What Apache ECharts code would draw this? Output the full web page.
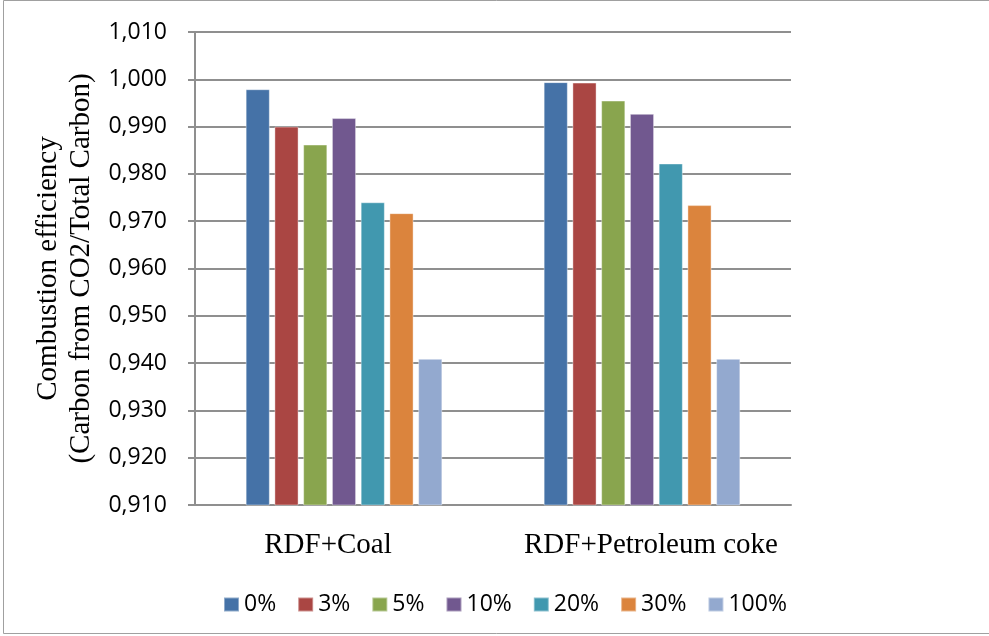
<!DOCTYPE html>
<html>
<head>
<meta charset="utf-8">
<script src="https://cdn.jsdelivr.net/npm/echarts@6/dist/echarts.min.js"></script>
<style>
  html, body { margin: 0; padding: 0; background: #fff; }
  #chart { width: 989px; height: 636px; }
</style>
</head>
<body>
<div id="chart"></div>
<script>
// Fuel blends on the category axis
const categories = ['RDF+Coal', 'RDF+Petroleum coke'];

// RDF share in the blend (one series each)
const seriesNames = ['0%', '3%', '5%', '10%', '20%', '30%', '100%'];

// Combustion efficiency per blend, one array per RDF share
const eff0 = [0.9979, 0.9994];
const eff3 = [0.9900, 0.9993];
const eff5 = [0.9862, 0.9955];
const eff10 = [0.9918, 0.9927];
const eff20 = [0.9740, 0.9822];
const eff30 = [0.9717, 0.9734];
const eff100 = [0.9409, 0.9409];

// Value axis range
const yMin = 0.91;
const yMax = 1.01;
const yStep = 0.01;

const seriesData = [eff0, eff3, eff5, eff10, eff20, eff30, eff100];
const colors = ['#4572A7', '#AA4643', '#89A54E', '#71588F', '#4198AF', '#DB843D', '#93A9CF'];

const chart = echarts.init(document.getElementById('chart'));

const gridColor = '#8f8f8f';

chart.setOption({
  animation: false,
  backgroundColor: '#ffffff',
  color: colors,
  graphic: [{
    type: 'rect',
    shape: { x: 3.5, y: 0.5, width: 990, height: 633 },
    style: { fill: 'none', stroke: '#a0a0a0', lineWidth: 1 },
    silent: true
  }],
  grid: { left: 195, right: 198, top: 32, bottom: 131 },
  legend: {
    left: 218,
    top: 588,
    icon: 'rect',
    itemWidth: 15,
    itemHeight: 14,
    itemGap: 21,
    textStyle: { fontFamily: 'Open Sans', fontSize: 23, color: '#000' },
    data: seriesNames
  },
  xAxis: {
    type: 'category',
    data: categories,
    axisLine: { lineStyle: { color: gridColor, width: 2 } },
    axisTick: { show: false },
    axisLabel: {
      margin: 26,
      formatter: function (v) {
        return v === categories[0] ? '{a|' + v + '}' : '{b|' + v + '}';
      },
      rich: {
        a: { fontFamily: 'Liberation Serif', fontSize: 29, color: '#000', padding: [0, 32, 0, 0] },
        b: { fontFamily: 'Liberation Serif', fontSize: 29, color: '#000', padding: [0, 0, 0, 18] }
      }
    }
  },
  yAxis: {
    type: 'value',
    min: yMin,
    max: yMax,
    interval: yStep,
    name: 'Combustion efficiency\n(Carbon from CO2/Total Carbon)',
    nameLocation: 'middle',
    nameRotate: 90,
    nameGap: 94,
    nameTextStyle: { fontFamily: 'Liberation Serif', fontSize: 29, color: '#000', lineHeight: 33 },
    axisLine: { show: true, lineStyle: { color: gridColor, width: 2 } },
    axisTick: { show: true, length: 7, lineStyle: { color: gridColor, width: 2 } },
    splitLine: { lineStyle: { color: gridColor, width: 2 } },
    axisLabel: {
      margin: 28,
      fontFamily: 'Open Sans',
      fontSize: 23,
      color: '#000',
      formatter: function (v) { return v.toFixed(3).replace('.', ','); }
    }
  },
  series: seriesNames.map(function (name, i) {
    return {
      name: name,
      type: 'bar',
      data: seriesData[i],
      barGap: '19%',
      barCategoryGap: '34%',
      itemStyle: { borderColor: 'rgba(255,255,255,0.4)', borderWidth: 1 }
    };
  })
});
</script>
</body>
</html>
